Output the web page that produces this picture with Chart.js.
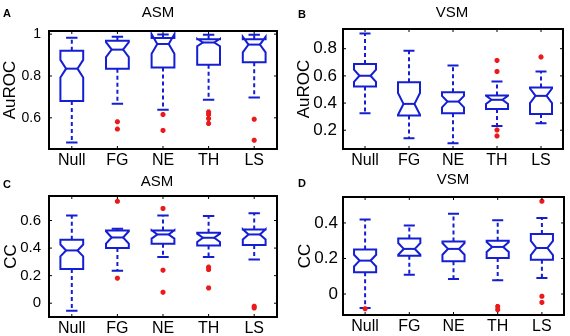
<!DOCTYPE html>
<html>
<head>
<meta charset="utf-8">
<script src="https://cdn.jsdelivr.net/npm/chart.js@4"></script>
<style>
  body { margin: 0; background: #fff; }
  #wrap { position: relative; width: 570px; height: 336px; background: #fff; }
  #wrap canvas { position: absolute; }
</style>
</head>
<body>
<div id="wrap">
  <canvas id="pA" width="285" height="168" style="left:0;top:0"></canvas>
  <canvas id="pB" width="285" height="168" style="left:285px;top:0"></canvas>
  <canvas id="pC" width="285" height="168" style="left:0;top:168px"></canvas>
  <canvas id="pD" width="285" height="168" style="left:285px;top:168px"></canvas>
</div>
<script>
const categories = ["Null", "FG", "NE", "TH", "LS"];

// A - ASM, AuROC
const asmAucLow = [0.482, 0.667, 0.639, 0.686, 0.697];
const asmAucQ1 = [0.681, 0.835, 0.841, 0.854, 0.866];
const asmAucMed = [0.835, 0.926, 0.953, 0.960, 0.950];
const asmAucQ3 = [0.921, 0.968, 0.981, 0.976, 0.976];
const asmAucHigh = [0.983, 0.987, 0.998, 0.997, 0.997];
const asmAucNotch = [0.042, 0.036, 0.047, 0.018, 0.037];
const asmAucOut = [[], [0.581, 0.546], [0.616, 0.540], [0.628, 0.616, 0.597, 0.573], [0.593, 0.493]];
const asmAucTicks = [0.6, 0.8, 1];

// B - VSM, AuROC
const vsmAucLow = [0.325, 0.141, 0.104, 0.232, 0.252];
const vsmAucQ1 = [0.522, 0.308, 0.325, 0.357, 0.320];
const vsmAucMed = [0.601, 0.394, 0.411, 0.424, 0.453];
const vsmAucQ3 = [0.687, 0.554, 0.480, 0.455, 0.514];
const vsmAucHigh = [0.911, 0.785, 0.677, 0.559, 0.633];
const vsmAucNotch = [0.045, 0.08, 0.042, 0.03, 0.054];
const vsmAucOut = [[], [], [], [0.714, 0.633, 0.202, 0.158], [0.739]];
const vsmAucTicks = [0.2, 0.4, 0.6, 0.8];

// C - ASM, CC
const asmCcLow = [-0.054, 0.235, 0.335, 0.335, 0.317];
const asmCcQ1 = [0.249, 0.400, 0.431, 0.419, 0.422];
const asmCcMed = [0.383, 0.477, 0.499, 0.475, 0.499];
const asmCcQ3 = [0.460, 0.528, 0.528, 0.511, 0.535];
const asmCcHigh = [0.637, 0.540, 0.637, 0.633, 0.652];
const asmCcNotch = [0.043, 0.045, 0.03, 0.03, 0.037];
const asmCcOut = [[], [0.739, 0.182], [0.688, 0.24, 0.08], [0.262, 0.244, 0.111], [-0.022, -0.034]];
const asmCcTicks = [0, 0.2, 0.4, 0.6];

// D - VSM, CC
const vsmCcLow = [-0.079, 0.109, 0.085, 0.077, 0.090];
const vsmCcQ1 = [0.122, 0.216, 0.184, 0.203, 0.193];
const vsmCcMed = [0.188, 0.254, 0.254, 0.265, 0.259];
const vsmCcQ3 = [0.250, 0.312, 0.296, 0.300, 0.338];
const vsmCcHigh = [0.419, 0.385, 0.452, 0.415, 0.428];
const vsmCcNotch = [0.033, 0.033, 0.033, 0.028, 0.04];
const vsmCcOut = [[-0.083], [], [], [-0.070, -0.088], [0.522, -0.013, -0.047]];
const vsmCcTicks = [0, 0.2, 0.4];

const BLUE = "rgb(20,30,210)";
const RED = "rgb(235,25,25)";
const FONT = "'Liberation Sans', Arial, sans-serif";

// notched boxes, whiskers, frame and labels (Matlab style)
const boxPlugin = {
  id: "boxes",
  beforeDatasetsDraw(chart, args, o) {
    const ctx = chart.ctx, xs = chart.scales.x, ys = chart.scales.y;
    const hw = xs.getPixelForValue(1.25) - xs.getPixelForValue(1);
    ctx.save();
    ctx.strokeStyle = BLUE;
    ctx.lineWidth = 2;
    o.med.forEach((m, i) => {
      const xc = xs.getPixelForValue(i + 1);
      const L = xc - hw, R = xc + hw, ind = hw / 2;
      const py = v => ys.getPixelForValue(v);
      // whiskers
      ctx.setLineDash([4, 3]);
      ctx.beginPath();
      ctx.moveTo(xc, py(o.q3[i])); ctx.lineTo(xc, py(o.high[i]));
      ctx.moveTo(xc, py(o.q1[i])); ctx.lineTo(xc, py(o.low[i]));
      ctx.stroke();
      ctx.setLineDash([]);
      ctx.beginPath();
      ctx.moveTo(xc - hw / 2, py(o.high[i])); ctx.lineTo(xc + hw / 2, py(o.high[i]));
      ctx.moveTo(xc - hw / 2, py(o.low[i])); ctx.lineTo(xc + hw / 2, py(o.low[i]));
      ctx.stroke();
      // notched box
      const nLo = m - o.notch[i], nHi = m + o.notch[i];
      ctx.beginPath();
      ctx.moveTo(L, py(o.q1[i]));
      ctx.lineTo(L, py(nLo));
      ctx.lineTo(L + ind, py(m));
      ctx.lineTo(L, py(nHi));
      ctx.lineTo(L, py(o.q3[i]));
      ctx.lineTo(R, py(o.q3[i]));
      ctx.lineTo(R, py(nHi));
      ctx.lineTo(R - ind, py(m));
      ctx.lineTo(R, py(nLo));
      ctx.lineTo(R, py(o.q1[i]));
      ctx.closePath();
      ctx.stroke();
      ctx.beginPath();
      ctx.moveTo(L + ind, py(m)); ctx.lineTo(R - ind, py(m));
      ctx.stroke();
    });
    ctx.restore();
  },
  afterDraw(chart, args, o) {
    const ctx = chart.ctx, a = chart.chartArea, xs = chart.scales.x, ys = chart.scales.y;
    ctx.save();
    ctx.strokeStyle = "#000";
    ctx.lineWidth = 1;
    ctx.beginPath();
    xs.ticks.forEach(t => {
      const x = xs.getPixelForValue(t.value);
      ctx.moveTo(x, a.bottom); ctx.lineTo(x, a.bottom - 3);
      ctx.moveTo(x, a.top); ctx.lineTo(x, a.top + 3);
    });
    ys.ticks.forEach(t => {
      const y = ys.getPixelForValue(t.value);
      ctx.moveTo(a.left, y); ctx.lineTo(a.left + 3, y);
      ctx.moveTo(a.right, y); ctx.lineTo(a.right - 3, y);
    });
    ctx.stroke();
    ctx.lineWidth = 2;
    ctx.strokeRect(a.left, a.top, a.right - a.left, a.bottom - a.top);
    ctx.fillStyle = "#000";
    ctx.textBaseline = "middle";
    ctx.font = "bold 11px " + FONT;
    ctx.textAlign = "left";
    ctx.fillText(o.letter, o.letterX, o.letterY);
    ctx.font = "15px " + FONT;
    ctx.textAlign = "center";
    ctx.fillText(o.title, o.titleX, o.titleY);
    ctx.restore();
  }
};

function makePanel(id, p) {
  const pts = [];
  p.out.forEach((arr, i) => arr.forEach(v => pts.push({ x: i + 1, y: v })));
  new Chart(document.getElementById(id), {
    type: "scatter",
    data: {
      datasets: [{
        data: pts,
        pointStyle: "star",
        radius: 2.5,
        borderWidth: 2,
        borderColor: RED,
        backgroundColor: RED
      }]
    },
    options: {
      responsive: false,
      animation: false,
      events: [],
      layout: { padding: { top: p.top, right: p.right, left: 0, bottom: 0 } },
      plugins: {
        legend: { display: false },
        tooltip: { enabled: false },
        boxes: {
          low: p.low, q1: p.q1, med: p.med, q3: p.q3, high: p.high, notch: p.notch,
          letter: p.letter, letterX: p.letterX, letterY: p.letterY,
          title: p.title, titleX: p.titleX, titleY: p.titleY
        }
      },
      scales: {
        x: {
          type: "linear",
          min: 0.5,
          max: 5.5,
          afterBuildTicks: s => { s.ticks = categories.map((c, i) => ({ value: i + 1 })); },
          afterFit: s => { s.height = 168 - p.bottom; },
          ticks: {
            callback: v => categories[v - 1],
            color: "#000",
            font: { family: FONT, size: 16 },
            padding: 2,
            maxRotation: 0,
            autoSkip: false
          },
          grid: { display: false, drawTicks: false },
          border: { display: false }
        },
        y: {
          min: p.ymin,
          max: p.ymax,
          afterBuildTicks: s => { s.ticks = p.ticks.map(v => ({ value: v })); },
          afterFit: s => { s.width = p.left; },
          ticks: {
            callback: v => String(v),
            color: "#000",
            font: { family: FONT, size: p.tickSize },
            padding: p.tickPad
          },
          title: {
            display: true,
            text: p.ylabel,
            color: "#000",
            font: { family: FONT, size: 17 },
            padding: { top: p.titlePad, bottom: 0 }
          },
          grid: { display: false, drawTicks: false },
          border: { display: false }
        }
      }
    },
    plugins: [boxPlugin]
  });
}

makePanel("pA", {
  low: asmAucLow, q1: asmAucQ1, med: asmAucMed, q3: asmAucQ3, high: asmAucHigh, notch: asmAucNotch, out: asmAucOut,
  ticks: asmAucTicks, ymin: 0.451, ymax: 1.015, ylabel: "AuROC",
  left: 49, right: 8, top: 31, bottom: 149, tickSize: 14, tickPad: 8, titlePad: 0,
  letter: "A", letterX: 3, letterY: 13.5, title: "ASM", titleX: 158, titleY: 13
});
makePanel("pB", {
  low: vsmAucLow, q1: vsmAucQ1, med: vsmAucMed, q3: vsmAucQ3, high: vsmAucHigh, notch: vsmAucNotch, out: vsmAucOut,
  ticks: vsmAucTicks, ymin: 0.062, ymax: 0.945, ylabel: "AuROC",
  left: 58, right: 7, top: 29, bottom: 149, tickSize: 17, tickPad: 6, titlePad: 9.5,
  letter: "B", letterX: 13, letterY: 14.5, title: "VSM", titleX: 167, titleY: 12.5
});
makePanel("pC", {
  low: asmCcLow, q1: asmCcQ1, med: asmCcMed, q3: asmCcQ3, high: asmCcHigh, notch: asmCcNotch, out: asmCcOut,
  ticks: asmCcTicks, ymin: -0.1, ymax: 0.778, ylabel: "CC",
  left: 49, right: 8, top: 28, bottom: 149, tickSize: 15, tickPad: 8, titlePad: 1,
  letter: "C", letterX: 3, letterY: 16.5, title: "ASM", titleX: 157, titleY: 13.5
});
makePanel("pD", {
  low: vsmCcLow, q1: vsmCcQ1, med: vsmCcMed, q3: vsmCcQ3, high: vsmCcHigh, notch: vsmCcNotch, out: vsmCcOut,
  ticks: vsmCcTicks, ymin: -0.118, ymax: 0.546, ylabel: "CC",
  left: 58, right: 6, top: 29, bottom: 147, tickSize: 17, tickPad: 5, titlePad: 10.5,
  letter: "D", letterX: 13, letterY: 16, title: "VSM", titleX: 168, titleY: 12
});
</script>
</body>
</html>
